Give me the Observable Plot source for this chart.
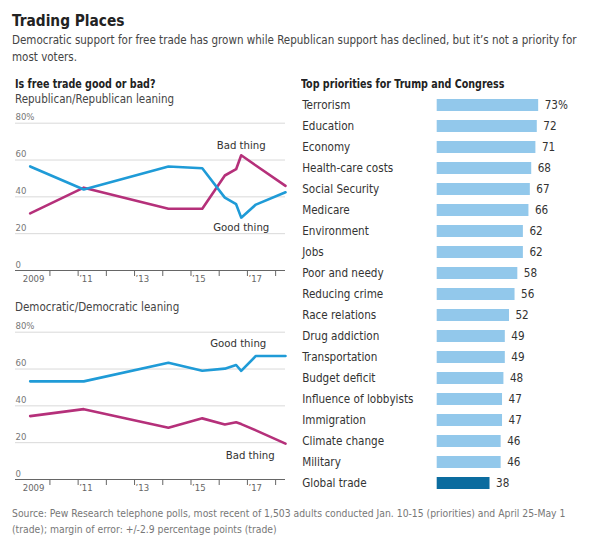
<!DOCTYPE html>
<html>
<head>
<meta charset="utf-8">
<script src="https://cdn.jsdelivr.net/npm/d3@7"></script>
<script src="https://cdn.jsdelivr.net/npm/@observablehq/plot@0.6"></script>
<style>
  html, body { margin: 0; padding: 0; background: #fff; }
  #root { position: relative; width: 606px; height: 548px; overflow: hidden;
    font-family: "DejaVu Sans Condensed", "DejaVu Sans", sans-serif; color: #333; }
  .abs { position: absolute; white-space: nowrap; }
  .title { left: 12px; top: 11.5px; font-size: 15.3px; line-height: 18px; font-weight: bold; color: #222; }
  .sub { left: 12px; top: 31.5px; font-size: 11.5px; line-height: 17px; color: #444; }
  .head { font-size: 11.8px; line-height: 16px; font-weight: bold; color: #222; transform: scaleX(0.9); transform-origin: 0 50%; }
  .grp { font-size: 11.5px; line-height: 16px; color: #444; }
  .foot { left: 12px; top: 505px; font-size: 10.3px; line-height: 16px; color: #777; }
  svg { overflow: visible; }
</style>
</head>
<body>
<div id="root">
  <div class="abs title">Trading Places</div>
  <div class="abs sub">Democratic support for free trade has grown while Republican support has declined, but it’s not a priority for<br>most voters.</div>
  <div class="abs head" style="left:15px;top:76px">Is free trade good or bad?</div>
  <div class="abs grp" style="left:15px;top:91px">Republican/Republican leaning</div>
  <div class="abs grp" style="left:15px;top:299px">Democratic/Democratic leaning</div>
  <div class="abs head" style="left:301px;top:76px">Top priorities for Trump and Congress</div>
  <div id="top" class="abs" style="left:0;top:108px"></div>
  <div id="bottom" class="abs" style="left:0;top:317px"></div>
  <div id="bars" class="abs" style="left:290px;top:80px"></div>
  <div class="abs foot">Source: Pew Research telephone polls, most recent of 1,503 adults conducted Jan. 10-15 (priorities) and April 25-May 1<br>(trade); margin of error: +/-2.9 percentage points (trade)</div>
</div>
<script>
// ---- Data ----
const pollDates = [2009.3, 2011.2, 2014.2, 2015.4, 2016.2, 2016.6, 2016.78, 2017.3, 2018.35];
const repGood = [56.5, 44, 56.5, 55.5, 39.6, 36, 28.7, 35.8, 42.5];
const repBad  = [31, 45, 33.5, 33.5, 51.6, 55, 62.6, 57, 46];
const demGood = [53.3, 53.3, 63.4, 59.1, 60.2, 62.2, 59, 67.1, 67.1];
const demBad  = [34.4, 38.2, 28.1, 33.2, 29.9, 31.1, 30.1, 26.7, 19.5];

const yearTicks = [2010, 2011, 2012, 2013, 2014, 2015, 2016, 2017, 2018];
const yearLabels = [2009, 2011, 2013, 2015, 2017];
const pctTicks = [0, 20, 40, 60, 80];

const priorities = ["Terrorism", "Education", "Economy", "Health-care costs", "Social Security", "Medicare",
  "Environment", "Jobs", "Poor and needy", "Reducing crime", "Race relations", "Drug addiction",
  "Transportation", "Budget deficit", "Influence of lobbyists", "Immigration", "Climate change",
  "Military", "Global trade"];
const priorityPct = [73, 72, 71, 68, 67, 66, 62, 62, 58, 56, 52, 49, 49, 48, 47, 47, 46, 46, 38];
const highlight = "Global trade";

// ---- Styles ----
const BLUE = "#1f9bd7", MAGENTA = "#b5307a", LIGHTBAR = "#92c8eb", DARKBAR = "#0b6c9f";
const FONT = getComputedStyle(document.getElementById("root")).fontFamily;

function series(vals, name) {
  return pollDates.map((d, i) => ({date: d, value: vals[i], series: name, i}));
}

function lineChart(good, bad, goodLabel, badLabel) {
  const g = series(good, "Good thing");
  const b = series(bad, "Bad thing");
  return Plot.plot({
    width: 300, height: 182,
    marginLeft: 15, marginRight: 15, marginTop: 14.7, marginBottom: 20,
    style: {fontFamily: FONT, fontSize: "9.5px", background: "transparent", overflow: "visible"},
    x: {domain: [2008.78, 2018.35], axis: null},
    y: {domain: [0, 80], axis: null},
    marks: [
      Plot.gridY(pctTicks.filter(t => t > 0), {stroke: "#d9d9d9", strokeOpacity: 1}),
      Plot.axisY(pctTicks, {tickSize: 0, tickPadding: 0, textAnchor: "start", dx: 0, dy: -6,
        fill: "#777", tickFormat: d => d === 80 ? "80%" : String(d), anchor: "left", label: null}),
      Plot.ruleY([0], {stroke: "#666", strokeWidth: 1}),
      Plot.axisX(yearTicks, {tickSize: 6, tickFormat: () => "", stroke: "#666", anchor: "bottom", label: null}),
      Plot.axisX(yearLabels, {tickSize: 0, tickPadding: 5, textAnchor: "start", dx: 1,
        fill: "#666", tickFormat: d => d === 2009 ? "2009" : "’" + String(d).slice(2), anchor: "bottom", label: null}),
      Plot.line(b, {x: "date", y: "value", stroke: MAGENTA, strokeWidth: 2.6, strokeLinejoin: "round"}),
      Plot.line(g, {x: "date", y: "value", stroke: BLUE, strokeWidth: 2.6, strokeLinejoin: "round"}),
      Plot.text(g, {filter: d => d.i === 6, x: "date", y: "value", text: () => "Good thing",
        dx: goodLabel[0], dy: goodLabel[1], fontSize: 11.3, fill: "#333"}),
      Plot.text(b, {filter: d => d.i === 6, x: "date", y: "value", text: () => "Bad thing",
        dx: badLabel[0], dy: badLabel[1], fontSize: 11.3, fill: "#333"})
    ]
  });
}

document.getElementById("top").append(lineChart(repGood, repBad, [0, 10], [0, -10]));
document.getElementById("bottom").append(lineChart(demGood, demBad, [-3, -27], [9, 31]));

const rows = priorities.map((c, i) => ({cat: c, pct: priorityPct[i], i}));
const bars = Plot.plot({
  width: 316, height: 421,
  marginLeft: 146.7, marginRight: 30.3, marginTop: 8.9, marginBottom: 1.9,
  style: {fontFamily: FONT, background: "transparent", overflow: "visible"},
  x: {domain: [0, 100], axis: null},
  y: {domain: priorities, padding: 0.43, axis: null},
  marks: [
    Plot.barX(rows.filter(d => d.cat !== highlight), {x: "pct", y: "cat", fill: LIGHTBAR}),
    Plot.barX(rows.filter(d => d.cat === highlight), {x: "pct", y: "cat", fill: DARKBAR}),
    Plot.text(rows, {y: "cat", text: "cat", frameAnchor: "left", textAnchor: "start", dx: -135,
      fontSize: 11.6, fill: "#333"}),
    Plot.text(rows, {x: "pct", y: "cat", text: d => d.i === 0 ? d.pct + "%" : String(d.pct),
      textAnchor: "start", dx: 6, fontSize: 11.6, fill: "#333"})
  ]
});
document.getElementById("bars").append(bars);
</script>
</body>
</html>
